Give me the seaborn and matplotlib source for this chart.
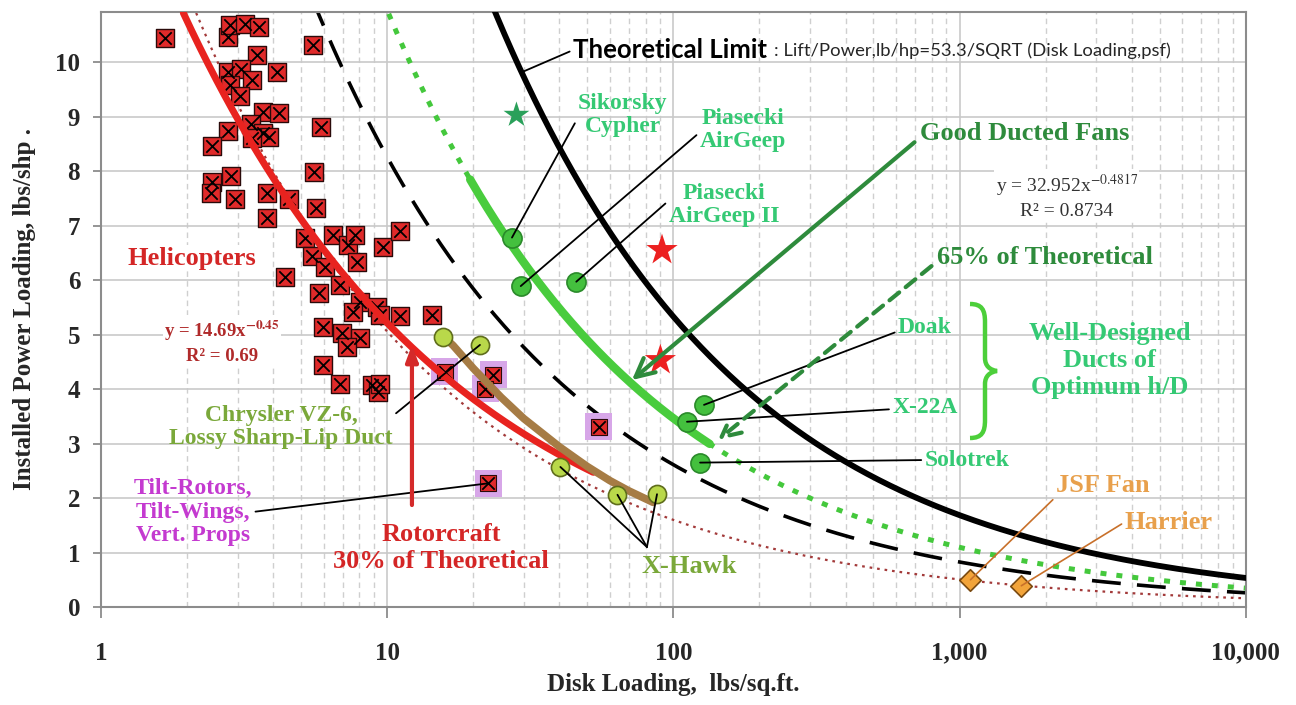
import numpy as np
import pandas as pd
import matplotlib
matplotlib.use("Agg")
import matplotlib.pyplot as plt
import seaborn as sns
from matplotlib.path import Path
from matplotlib.patches import PathPatch
from matplotlib.ticker import FixedLocator, LogLocator, NullFormatter

# ---------------- data ----------------
theory_coef = 53.3          # Lift/Power = 53.3/sqrt(DL)
frac_65 = 0.65
frac_dash = 0.49
frac_30 = 0.30
heli_fit_a, heli_fit_b = 14.69, -0.45
heli_fit_range = (1.94, 52.5)
good_fan_range = (19.5, 134.0)

heli_x = [1.68, 2.77, 2.83, 3.19, 3.58, 3.50, 5.50, 2.77, 3.08, 3.36, 4.11, 2.83, 3.05, 3.67, 4.20,
          5.88, 2.79, 3.34, 3.69, 3.88, 3.36, 2.44, 5.53, 2.85, 2.44, 2.42, 2.93, 3.80, 3.80, 4.55,
          5.64, 5.17, 6.46, 7.29, 7.74, 9.71, 11.1, 5.45, 6.07, 7.82, 4.38, 5.80, 6.82, 8.06, 7.62,
          9.22, 9.45, 11.1, 14.3, 5.96, 6.94, 8.06, 7.23, 5.96, 6.82, 8.83, 9.30, 9.45]
heli_y = [10.45, 10.46, 10.68, 10.70, 10.65, 10.13, 10.32, 9.82, 9.87, 9.67, 9.82, 9.58, 9.38, 9.09, 9.07,
          8.81, 8.73, 8.86, 8.70, 8.63, 8.60, 8.46, 7.98, 7.91, 7.80, 7.59, 7.48, 7.60, 7.13, 7.48,
          7.32, 6.77, 6.83, 6.64, 6.83, 6.61, 6.90, 6.44, 6.24, 6.34, 6.06, 5.77, 5.91, 5.60, 5.42,
          5.51, 5.36, 5.34, 5.36, 5.14, 5.02, 4.93, 4.78, 4.44, 4.10, 4.07, 3.95, 4.10]

tilt_x = [15.9, 23.5, 22.0, 54.8, 22.6]
tilt_y = [4.32, 4.26, 4.01, 3.31, 2.27]

fan_names = ["Sikorsky Cypher", "Piasecki AirGeep", "Piasecki AirGeep II", "Doak", "X-22A", "Solotrek"]
fan_x = [27.3, 29.3, 45.8, 128.0, 111.6, 124.0]
fan_y = [6.78, 5.89, 5.97, 3.71, 3.40, 2.65]

xhawk_names = ["Chrysler VZ-6 a", "Chrysler VZ-6 b", "X-Hawk 1", "X-Hawk 2", "X-Hawk 3"]
xhawk_x = [15.7, 21.1, 40.3, 63.8, 87.7]
xhawk_y = [4.95, 4.81, 2.57, 2.06, 2.07]

brown_x = [15.5, 17.0, 20.0, 25.0, 30.0, 40.0, 50.0, 60.0, 70.0, 85.0]
brown_y = [5.00, 4.80, 4.38, 3.85, 3.46, 2.94, 2.58, 2.32, 2.13, 1.92]

jet_names = ["JSF Fan", "Harrier"]
jet_x = [1092.0, 1644.0]
jet_y = [0.50, 0.39]

star_green_x, star_green_y = [28.3], [9.03]
star_red_x, star_red_y = [91.3, 90.1], [6.55, 4.53]

xtick_vals = [1, 10, 100, 1000, 10000]
xtick_labels = ["1", "10", "100", "1,000", "10,000"]
ytick_vals = list(range(0, 11))

# ---------------- style ----------------
sns.set_theme(style="white")
plt.rcParams['font.family'] = ['Liberation Serif', 'DejaVu Serif']
plt.rcParams['mathtext.fontset'] = 'stix'

fig = plt.figure(figsize=(12.96, 7.05), dpi=100)
ax = fig.add_axes([0.0779, 0.139, 0.8833, 0.844])
ax.set_xscale('log')

XL, XR, YT, YB = 101.0, 1245.7, 12.0, 607.0
def P(px, py):
    """pixel position in reference -> data coordinates (layout helper)"""
    return 10 ** ((px - XL) / 286.2), (YB - py) / 54.5
def A(px, py):
    return (px - XL) / (XR - XL), (YB - py) / (YB - YT)

# curves
xs = np.logspace(0, 4, 600)
theo = pd.DataFrame({"x": xs, "y": theory_coef / np.sqrt(xs)})
c65 = pd.DataFrame({"x": xs, "y": frac_65 * theory_coef / np.sqrt(xs)})
cdash = pd.DataFrame({"x": xs, "y": frac_dash * theory_coef / np.sqrt(xs)})
c30 = pd.DataFrame({"x": xs, "y": frac_30 * theory_coef / np.sqrt(xs)})
hx = np.logspace(np.log10(heli_fit_range[0]), np.log10(heli_fit_range[1]), 200)
hfit = pd.DataFrame({"x": hx, "y": heli_fit_a * hx ** heli_fit_b})
gx = np.logspace(np.log10(good_fan_range[0]), np.log10(good_fan_range[1]), 200)
gfit = pd.DataFrame({"x": gx, "y": frac_65 * theory_coef / np.sqrt(gx)})

kw = dict(estimator=None, sort=False, legend=False)
sns.lineplot(data=c30, x="x", y="y", ax=ax, color="#a33a3a", lw=1.6, ls=(0, (1.2, 2.2)), zorder=2, **kw)
sns.lineplot(data=cdash, x="x", y="y", ax=ax, color="black", lw=2.6, ls=(0, (8, 4.5)), zorder=2, **kw)
sns.lineplot(data=c65, x="x", y="y", ax=ax, color="#44c83c", lw=3.6, ls=(0, (1.2, 2.0)), zorder=2, **kw)
sns.lineplot(data=theo, x="x", y="y", ax=ax, color="black", lw=4.2, zorder=3, **kw)

# helicopters
sns.scatterplot(x=heli_x, y=heli_y, ax=ax, marker='s', s=150, color="#e02a2a",
                edgecolor="#2a0a0a", linewidth=1.0, zorder=3, legend=False)
sns.scatterplot(x=heli_x, y=heli_y, ax=ax, marker='x', s=80, color="black",
                linewidth=1.3, zorder=3.1, legend=False)
# tilt rotors
sns.scatterplot(x=tilt_x, y=tilt_y, ax=ax, marker='s', s=380, color="#d7a6e8",
                edgecolor="none", zorder=3.2, legend=False)
sns.scatterplot(x=tilt_x, y=tilt_y, ax=ax, marker='s', s=130, color="#e02a2a",
                edgecolor="#2a0a0a", linewidth=0.8, zorder=3.3, legend=False)
sns.scatterplot(x=tilt_x, y=tilt_y, ax=ax, marker='x', s=80, color="black",
                linewidth=1.3, zorder=3.4, legend=False)

sns.lineplot(data=hfit, x="x", y="y", ax=ax, color="#e8231f", lw=5, zorder=4, **kw)
sns.lineplot(x=brown_x, y=brown_y, ax=ax, color="#a67c45", lw=5.5, zorder=4.2, **kw)
sns.lineplot(data=gfit, x="x", y="y", ax=ax, color="#49cc3d", lw=6, zorder=4.1, **kw)

sns.scatterplot(x=fan_x, y=fan_y, ax=ax, marker='o', s=190, color="#44c03e",
                edgecolor="#2a8a2a", linewidth=1.2, zorder=5, legend=False)
sns.scatterplot(x=xhawk_x, y=xhawk_y, ax=ax, marker='o', s=170, color="#b9d84a",
                edgecolor="#5f6d1c", linewidth=1.2, zorder=5, legend=False)
sns.scatterplot(x=jet_x, y=jet_y, ax=ax, marker='D', s=120, color="#f2a43a",
                edgecolor="#7a4a10", linewidth=1.2, zorder=5, legend=False)
sns.scatterplot(x=star_green_x, y=star_green_y, ax=ax, marker='*', s=380, color="#2aa05a",
                edgecolor="none", zorder=5, legend=False)
sns.scatterplot(x=star_red_x, y=star_red_y, ax=ax, marker='*', s=560, color="#ec2020",
                edgecolor="none", zorder=5, legend=False)

# ---------------- axes ----------------
ax.set_xlim(1, 10000)
ax.set_ylim(0, 10.92)
ax.xaxis.set_major_locator(FixedLocator(xtick_vals))
ax.xaxis.set_minor_locator(LogLocator(base=10, subs=np.arange(2, 10)))
ax.xaxis.set_minor_formatter(NullFormatter())
ax.set_xticks(xtick_vals, xtick_labels)
ax.set_yticks(ytick_vals)
ax.grid(which='major', color="#c9c9c9", lw=1.2)
ax.grid(which='minor', axis='x', color="#cfcfcf", lw=1.0, ls=(0, (4, 3)))
ax.set_axisbelow(True)
for s in ax.spines.values():
    s.set_color("#8c8c8c"); s.set_linewidth(1.5)
ax.tick_params(axis='x', which='major', length=8, width=1.3, color="#8c8c8c", pad=17,
               labelsize=18, direction='out', bottom=True)
ax.tick_params(axis='x', which='minor', length=0)
ax.tick_params(axis='y', length=6, width=1.3, color="#8c8c8c", pad=9, labelsize=18, left=True)
for lab in ax.get_xticklabels() + ax.get_yticklabels():
    lab.set_fontweight('bold')
ax.set_xlabel("Disk Loading,  lbs/sq.ft.", fontsize=18, fontweight='bold', labelpad=6)
ax.set_ylabel("Installed Power Loading, lbs/shp .", fontsize=18, fontweight='bold', labelpad=14)

# ---------------- annotations ----------------
seafoam = "#35c974"
darkgreen = "#2e8b3c"
red = "#d42626"
olive = "#7aa83a"
orange = "#e8a04c"
magenta = "#c43ad0"
white_bb = dict(facecolor='white', edgecolor='none', pad=1.0)

def lead(text, target, textpos, tcolor, lcolor='black', relpos=(0, 0.5), lw=1.3, **tk):
    ax.annotate(text, xy=target, xytext=textpos, xycoords='data', textcoords='data',
                color=tcolor,
                arrowprops=dict(arrowstyle='-', color=lcolor, lw=lw, shrinkA=0, shrinkB=0,
                                relpos=relpos), zorder=6, **tk)

# theoretical limit
lead("Theoretical Limit", (29.5, theory_coef / np.sqrt(29.5)), P(573, 50), 'black',
     ha='left', va='center', fontsize=18.5, fontweight='bold', family=['Lato', 'DejaVu Sans'])
ax.text(*P(774, 51), ": Lift/Power,lb/hp=53.3/SQRT (Disk Loading,psf)", ha='left', va='center',
        fontsize=13.3, family=['Lato', 'DejaVu Sans'], zorder=6)

lead("Sikorsky\nCypher", (fan_x[0], fan_y[0]), P(623, 115), seafoam, ha='center', va='center',
     fontsize=17, fontweight='bold', linespacing=1.15, relpos=(0.0, 0.45))
lead("Piasecki\nAirGeep", (fan_x[1], fan_y[1]), P(743, 130), seafoam, ha='center', va='center',
     fontsize=17, fontweight='bold', linespacing=1.15, relpos=(0.0, 0.45))
lead("Piasecki\nAirGeep II", (fan_x[2], fan_y[2]), P(724, 205), seafoam, ha='center', va='center',
     fontsize=17, fontweight='bold', linespacing=1.15, relpos=(0.0, 0.6))
lead("Doak", (fan_x[3], fan_y[3]), P(925, 327), seafoam, ha='center', va='center', fontsize=17,
     fontweight='bold', relpos=(0.0, 0.3))
lead("X-22A", (fan_x[4], fan_y[4]), P(925, 407), seafoam, ha='center', va='center', fontsize=17,
     fontweight='bold', relpos=(0.0, 0.4))
lead("Solotrek", (fan_x[5], fan_y[5]), P(967, 460), seafoam, ha='center', va='center', fontsize=17,
     fontweight='bold', relpos=(0.0, 0.5))
ax.text(*P(1110, 360), "Well-Designed\nDucts of\nOptimum h/D", ha='center', va='center',
        fontsize=19, fontweight='bold', color=seafoam, linespacing=1.22, zorder=6)

# curly brace
bpts = [(970, 304), (982, 304), (985, 310), (985, 322), (985, 358), (985, 366), (990, 370), (997, 371),
        (990, 372), (985, 376), (985, 384), (985, 420), (985, 432), (982, 438), (970, 438)]
bcodes = [Path.MOVETO, Path.CURVE4, Path.CURVE4, Path.CURVE4, Path.LINETO, Path.CURVE4, Path.CURVE4,
          Path.CURVE4, Path.CURVE4, Path.CURVE4, Path.CURVE4, Path.LINETO, Path.CURVE4, Path.CURVE4,
          Path.CURVE4]
brace = PathPatch(Path([A(*p) for p in bpts], bcodes), transform=ax.transAxes, fill=False,
                  edgecolor="#4ccf3a", lw=3.2, zorder=6, clip_on=False)
ax.add_patch(brace)

ax.annotate("Good Ducted Fans", xy=P(632, 380), xytext=P(920, 133), ha='left', va='center',
            fontsize=19, fontweight='bold', color=darkgreen, zorder=6,
            arrowprops=dict(arrowstyle='->,head_length=0.7,head_width=0.35', color=darkgreen, lw=3,
                            shrinkA=2, shrinkB=0, relpos=(0, 0.3)))
ax.text(*P(1067, 196), "y = 32.952x$^{-0.4817}$\nR² = 0.8734", ha='center', va='center',
        fontsize=14, color="#333333", linespacing=1.35, zorder=6, bbox=white_bb)
ax.annotate("65% of Theoretical", xy=P(718, 440), xytext=P(937, 257), ha='left', va='center',
            fontsize=19, fontweight='bold', color=darkgreen, zorder=6,
            arrowprops=dict(arrowstyle='->,head_length=0.7,head_width=0.35', color=darkgreen, lw=3,
                            ls=(0, (3, 2)), shrinkA=2, shrinkB=0, relpos=(0, 0.3)))

lead("JSF Fan", (jet_x[0], jet_y[0]), P(1103, 485), orange, lcolor="#c8702a", ha='center',
     va='center', fontsize=19, fontweight='bold', relpos=(0.0, 0.0), lw=1.2)
lead("Harrier", (jet_x[1], jet_y[1]), P(1169, 522), orange, lcolor="#c8702a", ha='center',
     va='center', fontsize=19, fontweight='bold', relpos=(0.0, 0.5), lw=1.2)

ax.text(*P(192, 258), "Helicopters", ha='center', va='center', fontsize=19, fontweight='bold',
        color=red, zorder=6, bbox=white_bb)
ax.text(*P(222, 342), "y = 14.69x$^{\\mathbf{-0.45}}$\nR² = 0.69", ha='center', va='center',
        fontsize=13.5, fontweight='bold', color="#b02a2a", linespacing=1.4, zorder=6, bbox=white_bb)

lead("Chrysler VZ-6,\nLossy Sharp-Lip Duct", (xhawk_x[1], xhawk_y[1]), P(281, 427), olive,
     ha='center', va='center', fontsize=17, fontweight='bold', linespacing=1.15, relpos=(1.0, 0.75))

lead("Tilt-Rotors,\nTilt-Wings,\nVert. Props", (tilt_x[4], tilt_y[4]), P(193, 512), magenta,
     ha='center', va='center', fontsize=17, fontweight='bold', linespacing=1.15, relpos=(1.0, 0.5))

ax.text(*P(441, 548), "Rotorcraft\n30% of Theoretical", ha='center', va='center', fontsize=19,
        fontweight='bold', color=red, linespacing=1.2, zorder=6)
ax.annotate("", xy=P(412, 345), xytext=P(412, 505),
            arrowprops=dict(arrowstyle='-|>,head_length=0.8,head_width=0.3', color="#d42a2a", lw=3,
                            shrinkA=0, shrinkB=0), zorder=6)

for i in (2, 3, 4):
    ax.annotate("", xy=(xhawk_x[i], xhawk_y[i]), xytext=P(647, 547),
                arrowprops=dict(arrowstyle='-', color='black', lw=1.3, shrinkA=0, shrinkB=0), zorder=6)
ax.text(*P(689, 566), "X-Hawk", ha='center', va='center', fontsize=19, fontweight='bold',
        color=olive, zorder=6)

fig.savefig("out.png", dpi=100)
